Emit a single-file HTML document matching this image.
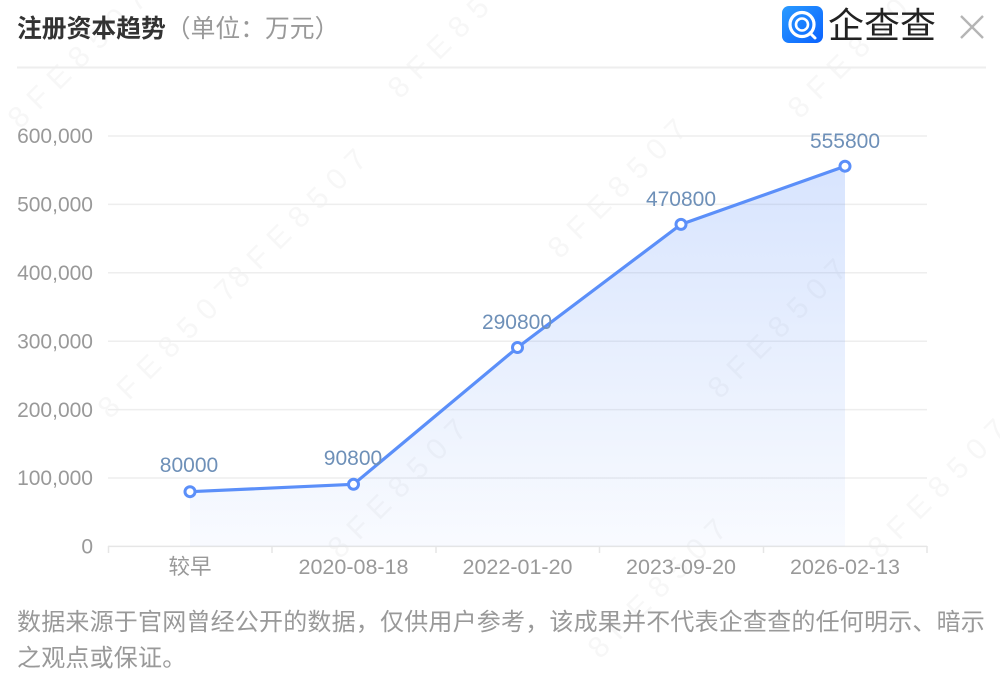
<!DOCTYPE html>
<html><head><meta charset="utf-8">
<style>
html,body{margin:0;padding:0;background:#fff;}
body{width:1000px;height:682px;overflow:hidden;position:relative;font-family:"Liberation Sans","Noto Sans CJK SC",sans-serif;}
svg{position:absolute;left:0;top:0;}
.foot{position:absolute;left:17px;top:605px;width:975px;font-size:24px;line-height:36px;color:#999;letter-spacing:0.2px;font-family:"Liberation Sans","Noto Sans CJK SC",sans-serif;}
</style></head>
<body>
<svg width="1000" height="682" viewBox="0 0 1000 682" xmlns="http://www.w3.org/2000/svg">
  <defs>
    <linearGradient id="area" x1="0" y1="166" x2="0" y2="546" gradientUnits="userSpaceOnUse">
      <stop offset="0" stop-color="#5b8ff9" stop-opacity="0.24"/>
      <stop offset="1" stop-color="#5b8ff9" stop-opacity="0.04"/>
    </linearGradient>
    <linearGradient id="logo" x1="0" y1="0" x2="1" y2="1">
      <stop offset="0" stop-color="#2a9bff"/>
      <stop offset="1" stop-color="#0a62ff"/>
    </linearGradient>
  </defs>

  <!-- watermark -->
  <g fill="#f7f7f7" font-size="30" font-family="Liberation Sans, sans-serif" letter-spacing="10">
    <text transform="translate(20,130) rotate(-45)">8FE8507</text>
    <text transform="translate(240,290) rotate(-45)">8FE8507</text>
    <text transform="translate(400,100) rotate(-45)">8FE8507</text>
    <text transform="translate(110,420) rotate(-45)">8FE8507</text>
    <text transform="translate(340,560) rotate(-45)">8FE8507</text>
    <text transform="translate(560,260) rotate(-45)">8FE8507</text>
    <text transform="translate(720,400) rotate(-45)">8FE8507</text>
    <text transform="translate(800,120) rotate(-45)">8FE8507</text>
    <text transform="translate(880,560) rotate(-45)">8FE8507</text>
    <text transform="translate(600,660) rotate(-45)">8FE8507</text>
  </g>

  <!-- header -->
  <text x="17" y="37" font-size="24.8" font-weight="bold" fill="#333" font-family="Liberation Sans, Noto Sans CJK SC, sans-serif">注册资本趋势<tspan font-weight="normal" fill="#999">（单位：万元）</tspan></text>
  <rect x="782" y="6" width="41" height="37" rx="7" fill="url(#logo)"/>
  <circle cx="802" cy="24.5" r="12" fill="none" stroke="#fff" stroke-width="3.2"/>
  <circle cx="802" cy="24.5" r="6" fill="none" stroke="#fff" stroke-width="2.6"/>
  <path d="M810 33 L815 38" stroke="#fff" stroke-width="3" stroke-linecap="round"/>
  <text x="828" y="38" font-size="36" fill="#222" font-family="Noto Sans CJK SC, sans-serif">企查查</text>
  <path d="M961 16 L983 38 M983 16 L961 38" stroke="#b5b5b5" stroke-width="2.4"/>
  <line x1="17" y1="67.5" x2="986" y2="67.5" stroke="#eeeeee" stroke-width="2"/>

  <!-- grid -->
  <g stroke="#eeeeee" stroke-width="1.5">
    <line x1="108" y1="136" x2="927" y2="136"/>
    <line x1="108" y1="204.4" x2="927" y2="204.4"/>
    <line x1="108" y1="272.8" x2="927" y2="272.8"/>
    <line x1="108" y1="341.2" x2="927" y2="341.2"/>
    <line x1="108" y1="409.6" x2="927" y2="409.6"/>
    <line x1="108" y1="478" x2="927" y2="478"/>
  </g>
  <line x1="108" y1="546.4" x2="927" y2="546.4" stroke="#e6e6e6" stroke-width="1.5"/>
  <g stroke="#e6e6e6" stroke-width="1.5">
    <line x1="108.5" y1="546" x2="108.5" y2="553"/>
    <line x1="272" y1="546" x2="272" y2="553"/>
    <line x1="436" y1="546" x2="436" y2="553"/>
    <line x1="599.5" y1="546" x2="599.5" y2="553"/>
    <line x1="763.5" y1="546" x2="763.5" y2="553"/>
    <line x1="927" y1="546" x2="927" y2="553"/>
  </g>

  <!-- y labels -->
  <g font-size="21" fill="#999" text-anchor="end" font-family="Liberation Sans, sans-serif">
    <text x="93" y="143">600,000</text>
    <text x="93" y="211.5">500,000</text>
    <text x="93" y="280">400,000</text>
    <text x="93" y="348.5">300,000</text>
    <text x="93" y="417">200,000</text>
    <text x="93" y="485">100,000</text>
    <text x="93" y="553.5">0</text>
  </g>

  <!-- x labels -->
  <g font-size="21.5" fill="#999" text-anchor="middle" font-family="Liberation Sans, Noto Sans CJK SC, sans-serif">
    <text x="190" y="574">较早</text>
    <text x="353.5" y="574">2020-08-18</text>
    <text x="517.5" y="574">2022-01-20</text>
    <text x="681" y="574">2023-09-20</text>
    <text x="845" y="574">2026-02-13</text>
  </g>

  <!-- area -->
  <path d="M190 491.7 L353.5 484.3 L517.5 347.5 L681 224.4 L845 166.2 L845 546.4 L190 546.4 Z" fill="url(#area)"/>
  <!-- line -->
  <path d="M190 491.7 L353.5 484.3 L517.5 347.5 L681 224.4 L845 166.2" fill="none" stroke="#5b8ff9" stroke-width="3.2" stroke-linejoin="round"/>
  <g fill="#fff" stroke="#5b8ff9" stroke-width="3">
    <circle cx="190" cy="491.7" r="5"/>
    <circle cx="353.5" cy="484.3" r="5"/>
    <circle cx="517.5" cy="347.5" r="5"/>
    <circle cx="681" cy="224.4" r="5"/>
    <circle cx="845" cy="166.2" r="5"/>
  </g>

  <!-- data labels -->
  <g font-size="21" fill="#6e90b8" text-anchor="middle" font-family="Liberation Sans, sans-serif">
    <text x="189" y="472">80000</text>
    <text x="353" y="465">90800</text>
    <text x="517" y="329">290800</text>
    <text x="681" y="206">470800</text>
    <text x="845" y="148">555800</text>
  </g>
</svg>
<div class="foot">数据来源于官网曾经公开的数据，仅供用户参考，该成果并不代表企查查的任何明示、暗示之观点或保证。</div>
</body></html>
